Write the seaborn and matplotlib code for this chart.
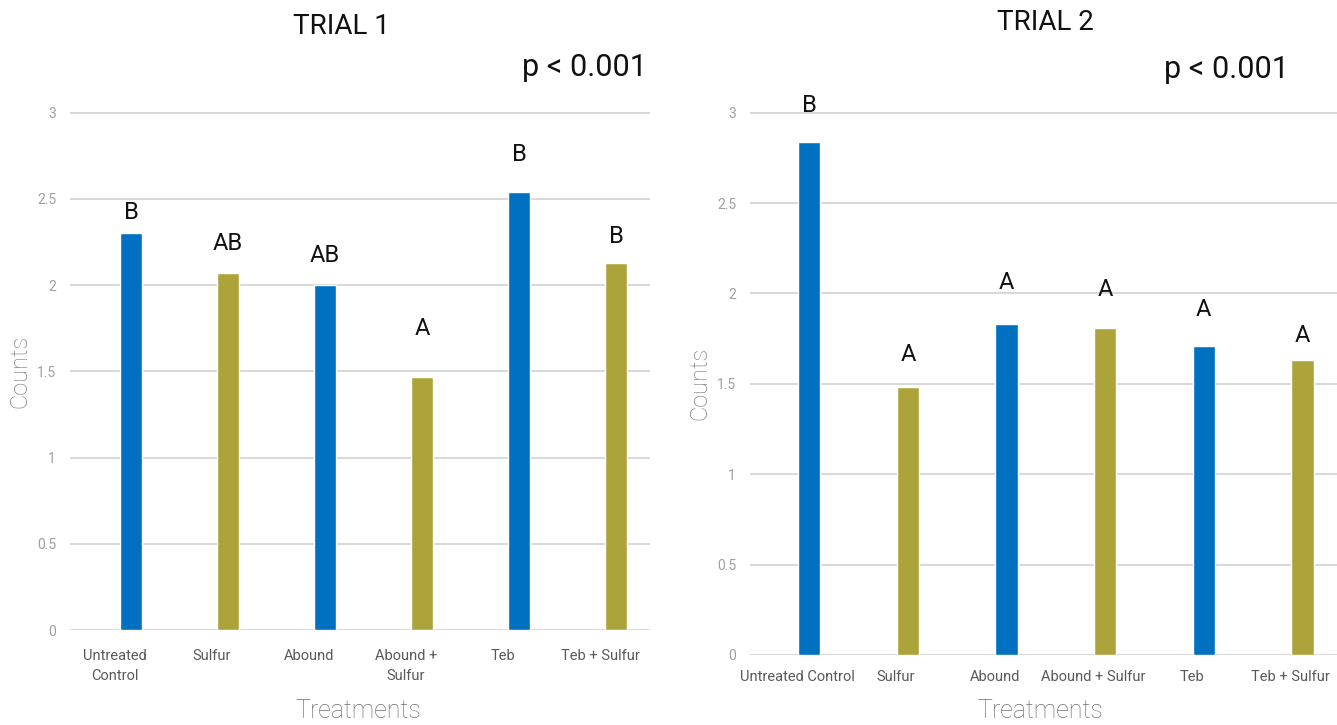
import matplotlib
matplotlib.use("Agg")
import matplotlib.pyplot as plt
import numpy as np
import pandas as pd
import seaborn as sns

# Treatment categories and mean counts for each trial
treatments_t1 = ["Untreated\nControl", "Sulfur", "Abound", "Abound +\nSulfur", "Teb", "Teb + Sulfur"]
treatments_t2 = ["Untreated Control", "Sulfur", "Abound", "Abound + Sulfur", "Teb", "Teb + Sulfur"]
counts_t1 = [2.30, 2.07, 2.00, 1.47, 2.54, 2.13]
counts_t2 = [2.84, 1.48, 1.83, 1.81, 1.71, 1.63]
letters_t1 = ["B", "AB", "AB", "A", "B", "B"]
letters_t2 = ["B", "A", "A", "A", "A", "A"]
y_ticks = [0, 0.5, 1, 1.5, 2, 2.5, 3]
y_tick_labels = ["0", "0.5", "1", "1.5", "2", "2.5", "3"]
p_text = "p < 0.001"

# Gap between each bar top and its significance letter (data units)
letter_gap_t1 = [0.12, 0.17, 0.17, 0.28, 0.22, 0.15]
letter_gap_t2 = [0.20, 0.18, 0.23, 0.21, 0.20, 0.14]

BLUE = "#0070C0"
OLIVE = "#ADA33B"
palette = [BLUE, OLIVE, BLUE, OLIVE, BLUE, OLIVE]

sns.set_theme(style="white")
plt.rcParams["font.family"] = ["Roboto", "DejaVu Sans"]

fig = plt.figure(figsize=(13.37, 7.25), dpi=100)
W, H = 1337, 725


def px_axes(x0, x1, y_top, y_bot):
    return fig.add_axes([x0 / W, 1 - y_bot / H, (x1 - x0) / W, (y_bot - y_top) / H])


ax1 = px_axes(70, 650, 112, 630)
ax2 = px_axes(750, 1337, 112, 655)


def draw_panel(ax, labels, values, letters, gaps, xlim, label_shift, tick_pad,
               ylabel_x, xlabel_xy):
    df = pd.DataFrame({"Treatment": labels, "Counts": values})
    sns.barplot(data=df, x="Treatment", y="Counts", hue="Treatment",
                palette=palette, order=labels, hue_order=labels,
                width=0.225, legend=False, ax=ax, saturation=1)
    for i, (v, lt, g) in enumerate(zip(values, letters, gaps)):
        ax.text(i, v + g, lt, ha="center", va="center", fontsize=17,
                color="#111111")
    ax.set_ylim(0, 3.004)
    ax.set_xlim(*xlim)
    ax.set_yticks(y_ticks, y_tick_labels)
    ax.set_xticks(np.arange(len(labels)) - label_shift, labels)
    for t in ax.get_xticklabels():
        t.set_linespacing(1.55)
    ax.yaxis.grid(True, color="#D9D9D9", linewidth=1.5)
    ax.set_axisbelow(True)
    for s in ax.spines.values():
        s.set_visible(False)
    ax.tick_params(axis="y", length=0, pad=10, labelsize=10, labelcolor="#A0A0A0")
    ax.tick_params(axis="x", length=0, pad=tick_pad, labelsize=10.5, labelcolor="#595959")
    ax.set_xlabel("Treatments", fontsize=18, color="#707070", fontweight="light")
    ax.xaxis.label.set_va("center")
    ax.xaxis.set_label_coords(*xlabel_xy)
    ax.set_ylabel("Counts", fontsize=17, color="#7F7F7F", fontweight="light")
    ax.yaxis.label.set_va("center")
    ax.yaxis.set_label_coords(ylabel_x, 0.5)


draw_panel(ax1, treatments_t1, counts_t1, letters_t1, letter_gap_t1,
           (-0.63, 5.35), 0.165, 14, -0.086, (0.497, -0.156))
draw_panel(ax2, treatments_t2, counts_t2, letters_t2, letter_gap_t2,
           (-0.60, 5.35), 0.12, 11, -0.085, (0.494, -0.103))

fig.text(341 / W, 1 - 27 / H, "TRIAL 1", ha="center", va="center", fontsize=20, color="#111111")
fig.text(1045 / W, 1 - 22 / H, "TRIAL 2", ha="center", va="center", fontsize=20, color="#111111")
fig.text(584 / W, 1 - 67 / H, p_text, ha="center", va="center", fontsize=22, color="#111111")
fig.text(1226 / W, 1 - 70 / H, p_text, ha="center", va="center", fontsize=22, color="#111111")

fig.savefig("out.png", dpi=100)
